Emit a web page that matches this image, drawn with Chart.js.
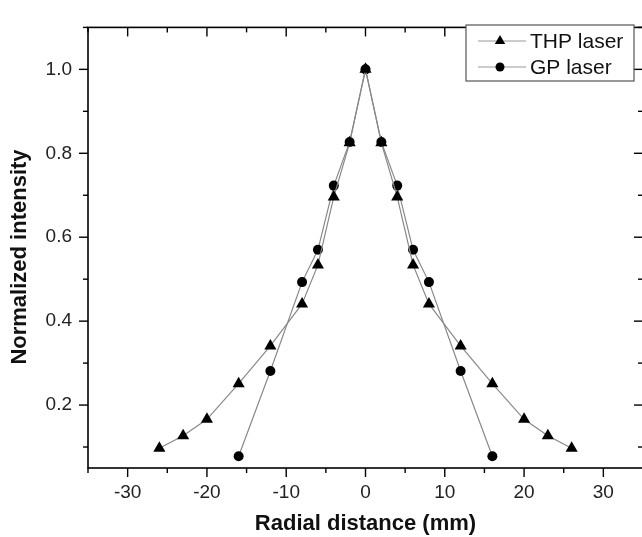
<!DOCTYPE html>
<html>
<head>
<meta charset="utf-8">
<script src="https://cdn.jsdelivr.net/npm/chart.js@4.4.1/dist/chart.umd.min.js"></script>
<style>
  html, body { margin: 0; padding: 0; background: #fff; overflow: hidden; }
  #wrap { width: 650px; height: 537px; }
</style>
</head>
<body>
<div id="wrap"><canvas id="chart"></canvas></div>
<script>
// data
const thpX = [-26, -23, -20, -16, -12, -8, -6, -4, -2, 0, 2, 4, 6, 8, 12, 16, 20, 23, 26];
const thpY = [0.097, 0.127, 0.166, 0.251, 0.341, 0.441, 0.534, 0.696, 0.825, 1.0, 0.825, 0.696, 0.534, 0.441, 0.341, 0.251, 0.166, 0.127, 0.097];
const gpX = [-16, -12, -8, -6, -4, -2, 0, 2, 4, 6, 8, 12, 16];
const gpY = [0.078, 0.281, 0.493, 0.570, 0.723, 0.827, 1.0, 0.827, 0.723, 0.570, 0.493, 0.281, 0.078];

const seriesNames = ['THP laser', 'GP laser'];
const xTicks = [-30, -20, -10, 0, 10, 20, 30];
const xMinor = [-35, -25, -15, -5, 5, 15, 25, 35];
const yTicks = [0.2, 0.4, 0.6, 0.8, 1.0];
const yMinor = [0.1, 0.3, 0.5, 0.7, 0.9, 1.1];
const xTitle = 'Radial distance (mm)';
const yTitle = 'Normalized intensity';

const FONT = "'Liberation Sans', Arial, sans-serif";

const toPts = (xs, ys) => xs.map((x, i) => ({ x: x, y: ys[i] }));

// frame, ticks, y title and legend
const framePlugin = {
    id: 'frame',
    afterDraw(chart) {
        const ctx = chart.ctx;
        const a = chart.chartArea;
        const xs = chart.scales.x, ys = chart.scales.y;
        ctx.save();
        ctx.strokeStyle = '#000';
        ctx.lineWidth = 1.6;
        ctx.strokeRect(a.left, a.top, a.right - a.left, a.bottom - a.top);

        ctx.lineWidth = 1.4;
        const tick = (x1, y1, x2, y2) => {
            ctx.beginPath(); ctx.moveTo(x1, y1); ctx.lineTo(x2, y2); ctx.stroke();
        };
        xTicks.forEach(v => {
            const p = xs.getPixelForValue(v);
            tick(p, a.bottom, p, a.bottom + 9);
            tick(p, a.top, p, a.top + 9);
        });
        xMinor.forEach(v => {
            const p = xs.getPixelForValue(v);
            tick(p, a.bottom, p, a.bottom + 5);
            tick(p, a.top, p, a.top + 5);
        });
        yTicks.forEach(v => {
            const p = ys.getPixelForValue(v);
            tick(a.left, p, a.left - 9, p);
            tick(a.right, p, a.right - 9, p);
        });
        yMinor.forEach(v => {
            const p = ys.getPixelForValue(v);
            if (p < a.top) return;
            tick(a.left, p, a.left - 5, p);
            tick(a.right, p, a.right - 5, p);
        });

        // y title
        ctx.fillStyle = '#111';
        ctx.font = 'bold 22px ' + FONT;
        ctx.textAlign = 'center';
        ctx.textBaseline = 'middle';
        ctx.translate(20, 257);
        ctx.rotate(-Math.PI / 2);
        ctx.fillText(yTitle, 0, 0);
        ctx.restore();

        // legend
        ctx.save();
        ctx.fillStyle = '#fff';
        ctx.fillRect(466, 25, 168, 56);
        ctx.strokeStyle = '#555';
        ctx.lineWidth = 1.2;
        ctx.strokeRect(466, 25, 168, 56);
        const rows = [41, 67];
        chart.data.datasets.forEach((ds, i) => {
            const y = rows[i];
            ctx.strokeStyle = '#999';
            ctx.lineWidth = 1;
            tick(478, y, 526, y);
            ctx.fillStyle = '#000';
            ctx.beginPath();
            if (ds.pointStyle === 'triangle') {
                const r = 6;
                ctx.moveTo(500, y - r);
                ctx.lineTo(500 + r * 0.866, y + r / 2);
                ctx.lineTo(500 - r * 0.866, y + r / 2);
                ctx.closePath();
            } else {
                ctx.arc(500, y, 4.5, 0, Math.PI * 2);
            }
            ctx.fill();
            ctx.fillStyle = '#111';
            ctx.font = '21px ' + FONT;
            ctx.textAlign = 'left';
            ctx.textBaseline = 'middle';
            ctx.fillText(ds.label, 530, y + 1);
        });
        ctx.restore();
    }
};

new Chart(document.getElementById('chart').getContext('2d'), {
    type: 'scatter',
    data: {
        datasets: [{
            label: seriesNames[0],
            data: toPts(thpX, thpY),
            showLine: true,
            borderColor: '#888',
            borderWidth: 1.2,
            pointStyle: 'triangle',
            pointRadius: 7,
            pointBackgroundColor: '#000',
            pointBorderColor: '#000',
            pointBorderWidth: 0
        }, {
            label: seriesNames[1],
            data: toPts(gpX, gpY),
            showLine: true,
            borderColor: '#888',
            borderWidth: 1.2,
            pointStyle: 'circle',
            pointRadius: 5,
            pointBackgroundColor: '#000',
            pointBorderColor: '#000',
            pointBorderWidth: 0
        }]
    },
    options: {
        responsive: true,
        maintainAspectRatio: false,
        animation: false,
        layout: { padding: { top: 14, right: 4, left: 0, bottom: 0 } },
        scales: {
            x: {
                type: 'linear',
                min: -35,
                max: 35,
                afterBuildTicks: s => { s.ticks = xTicks.map(v => ({ value: v })); },
                afterFit: s => { s.height = 69; },
                grid: { display: false, drawTicks: false },
                border: { display: false },
                ticks: {
                    padding: 13,
                    color: '#222',
                    font: { family: FONT, size: 19 }
                },
                title: {
                    display: true,
                    text: xTitle,
                    color: '#111',
                    padding: { top: 0, bottom: 0 },
                    font: { family: FONT, size: 22, weight: 'bold' }
                }
            },
            y: {
                type: 'linear',
                min: 0.05,
                max: 1.1,
                afterBuildTicks: s => { s.ticks = yTicks.map(v => ({ value: v })); },
                afterFit: s => { s.width = 88; },
                grid: { display: false, drawTicks: false },
                border: { display: false },
                ticks: {
                    padding: 16,
                    color: '#222',
                    font: { family: FONT, size: 19 },
                    callback: v => v.toFixed(1)
                }
            }
        },
        plugins: {
            legend: { display: false },
            tooltip: { enabled: false }
        }
    },
    plugins: [framePlugin]
});
</script>
</body>
</html>
